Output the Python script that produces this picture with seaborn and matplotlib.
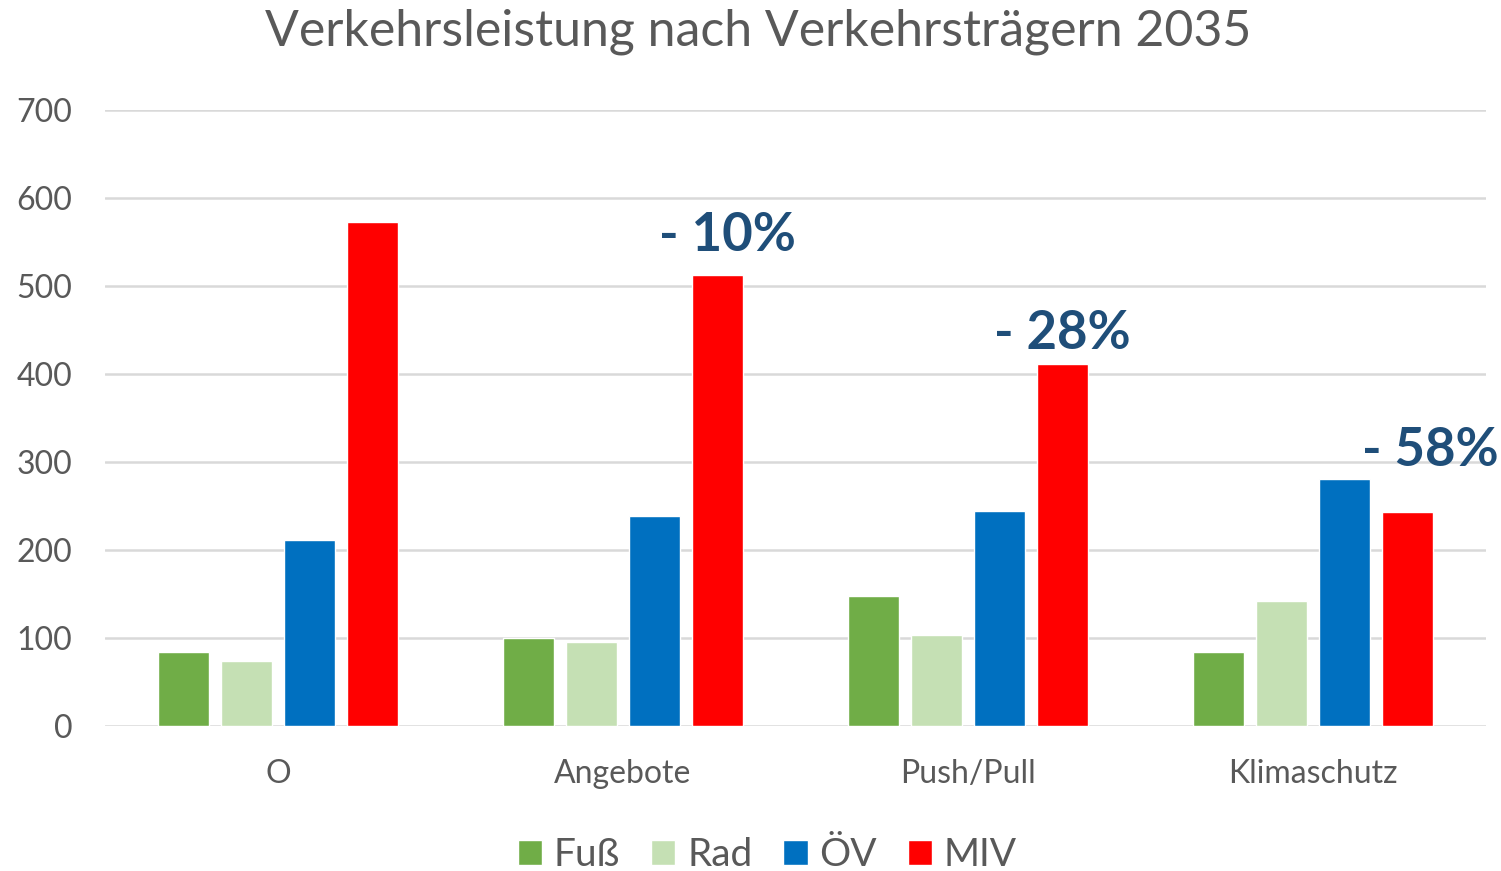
import matplotlib
matplotlib.use("Agg")
import matplotlib.pyplot as plt
import seaborn as sns
import pandas as pd

categories = ["O", "Angebote", "Push/Pull", "Klimaschutz"]
series = ["Fuß", "Rad", "ÖV", "MIV"]
fuss = [84, 100, 148, 84]
rad = [74, 95, 104, 142]
oev = [211, 239, 245, 281]
miv = [573, 513, 412, 243]
colors = ["#70AD47", "#C5E0B4", "#0070C0", "#FF0000"]
annot_labels = ["", "- 10%", "- 28%", "- 58%"]
yticks = [0, 100, 200, 300, 400, 500, 600, 700]

rows = []
for s, vals in zip(series, [fuss, rad, oev, miv]):
    for c, v in zip(categories, vals):
        rows.append({"Szenario": c, "Träger": s, "Wert": v})
df = pd.DataFrame(rows)

sns.set_theme(style="white")
plt.rcParams["font.family"] = ["Lato", "DejaVu Sans"]

fig = plt.figure(figsize=(15.01, 8.71), dpi=100)
ax = fig.add_axes([105.5 / 1501, 1 - 726 / 871, 1380 / 1501, (726 - 110.5) / 871])

sns.barplot(data=df, x="Szenario", y="Wert", hue="Träger", order=categories,
            hue_order=series, palette=colors, width=0.73, gap=0.2,
            saturation=1, ax=ax, legend=True, zorder=3)

ax.set_ylim(0, 700)
ax.set_xlim(-0.5, len(categories) - 0.5)
ax.set_yticks(yticks)
ax.yaxis.grid(True, color="#D9D9D9", linewidth=1.8, zorder=0)
ax.set_axisbelow(True)
for sp in ax.spines.values():
    sp.set_visible(False)
ax.set_xlabel("")
ax.set_ylabel("")
ax.tick_params(axis="both", length=0, colors="#595959", labelsize=23)
ax.tick_params(axis="x", pad=24)
ax.tick_params(axis="y", pad=24)
for lab in ax.get_yticklabels():
    lab.set_horizontalalignment("right")

# annotations above MIV bars
slot = 0.73 / 4
miv_off = 1.5 * slot
extra_x = [0, 0.03, 0.0, 0.065]
extra_y = [0, 17, 7, 42]
for i, lab in enumerate(annot_labels):
    if lab:
        ax.text(i + miv_off + extra_x[i], miv[i] + extra_y[i], lab,
                ha="center", va="bottom", fontsize=38, fontweight="bold",
                color="#1F4E79", clip_on=False)

leg = ax.legend(loc="center", bbox_to_anchor=(0.5 + (767 - 795) / 1380, -(855 - 726) / (726 - 110.5)),
                ncol=4, frameon=False, fontsize=28, handlelength=0.62, handleheight=0.62,
                handletextpad=0.3, columnspacing=0.8, labelcolor="#595959")

fig.text(0.5 + (758 - 750) / 1501, 1 - 32 / 871, "Verkehrsleistung nach Verkehrsträgern 2035",
         ha="center", va="center", fontsize=36, color="#595959")

fig.savefig("out.png", dpi=100)
